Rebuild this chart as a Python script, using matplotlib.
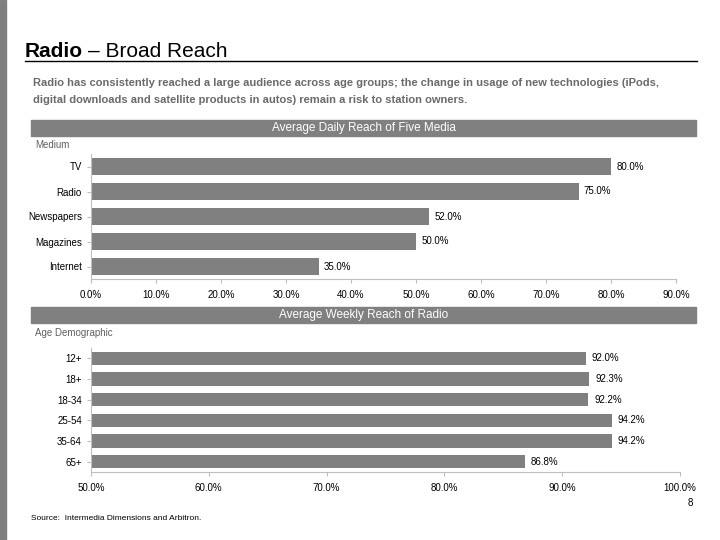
import matplotlib.pyplot as plt
from matplotlib.patches import Rectangle
from matplotlib.ticker import FuncFormatter

plt.rcParams['font.family'] = ['Liberation Sans Narrow', 'Liberation Sans', 'DejaVu Sans']

# Data
media = ['TV', 'Radio', 'Newspapers', 'Magazines', 'Internet']
media_reach = [80.0, 75.0, 52.0, 50.0, 35.0]

ages = ['12+', '18+', '18-34', '25-54', '35-64', '65+']
radio_reach = [92.0, 92.3, 92.2, 94.2, 94.2, 86.8]

W, H = 720, 540
bar_color = '#808080'


def px_axes(fig, left, top, right, bottom):
    return fig.add_axes([left / W, 1 - bottom / H, (right - left) / W, (bottom - top) / H])


fig = plt.figure(figsize=(7.2, 5.4), dpi=100)

# Left gray strip
fig.patches.append(Rectangle((0, 0), 6 / W, 1, transform=fig.transFigure,
                             color='#7f7f7f', zorder=0))

# Title and underline
fig.text(25 / W, 1 - 57 / H, 'Radio', fontsize=15, fontweight='bold', va='baseline',
         family='Liberation Sans')
fig.text(88 / W, 1 - 57 / H, '– Broad Reach', fontsize=15, va='baseline',
         family='Liberation Sans')
fig.add_artist(plt.Line2D([25 / W, 697 / W], [1 - 61 / H, 1 - 61 / H], color='black', lw=1))

fig.text(33 / W, 1 - 83 / H,
         'Radio has consistently reached a large audience across age groups; the change in usage of new technologies (iPods,',
         fontsize=8, color='#6a6a6a', fontweight='bold', va='center')
fig.text(33 / W, 1 - 100 / H,
         'digital downloads and satellite products in autos) remain a risk to station owners.',
         fontsize=8, color='#6a6a6a', fontweight='bold', va='center')

# Header bars
for top, bot, label in [(120, 136, 'Average Daily Reach of Five Media'),
                        (307, 323, 'Average Weekly Reach of Radio')]:
    fig.patches.append(Rectangle((31 / W, 1 - bot / H), (696 - 31) / W, (bot - top) / H,
                                 transform=fig.transFigure, color=bar_color, zorder=0))
    fig.text(364 / W, 1 - (top + bot) / 2 / H, label, fontsize=8.5, color='white',
             ha='center', va='center')

fig.text(35 / W, 1 - 145 / H, 'Medium', fontsize=7, color='#606060', va='center')
fig.text(35 / W, 1 - 333 / H, 'Age Demographic', fontsize=7, color='#606060', va='center')


def style_axes(ax):
    for s in ['top', 'right']:
        ax.spines[s].set_visible(False)
    for s in ['left', 'bottom']:
        ax.spines[s].set_color('#bfbfbf')
    ax.tick_params(axis='y', length=3, color='#bfbfbf', labelsize=7, labelcolor='black')
    ax.tick_params(axis='x', length=3, color='#bfbfbf', labelsize=7, labelcolor='black',
                   pad=5)
    ax.xaxis.set_major_formatter(FuncFormatter(lambda v, p: f'{v:.1f}%'))


# Top chart
ax1 = px_axes(fig, 91, 154, 676, 279)
y1 = range(len(media))
ax1.barh(list(y1), media_reach, height=0.68, color=bar_color)
ax1.set_yticks(list(y1))
ax1.set_yticklabels(media)
ax1.set_ylim(len(media) - 0.5, -0.5)
ax1.set_xlim(0, 90)
ax1.set_xticks(range(0, 91, 10))
style_axes(ax1)
for i, v in enumerate(media_reach):
    ax1.text(v + 0.8, i, f'{v:.1f}%', fontsize=7, va='center')

# Bottom chart
ax2 = px_axes(fig, 91, 348, 680, 472)
y2 = range(len(ages))
ax2.barh(list(y2), radio_reach, height=0.64, color=bar_color)
ax2.set_yticks(list(y2))
ax2.set_yticklabels(ages)
ax2.set_ylim(len(ages) - 0.5, -0.5)
ax2.set_xlim(50, 100)
ax2.set_xticks(range(50, 101, 10))
style_axes(ax2)
for i, v in enumerate(radio_reach):
    ax2.text(v + 0.5, i, f'{v:.1f}%', fontsize=7, va='center')

fig.text(690 / W, 1 - 503 / H, '8', fontsize=7, va='center', ha='center')
fig.text(31 / W, 1 - 519 / H, 'Source:  Intermedia Dimensions and Arbitron.', fontsize=6, va='center')

fig.savefig('out.png', dpi=100)
